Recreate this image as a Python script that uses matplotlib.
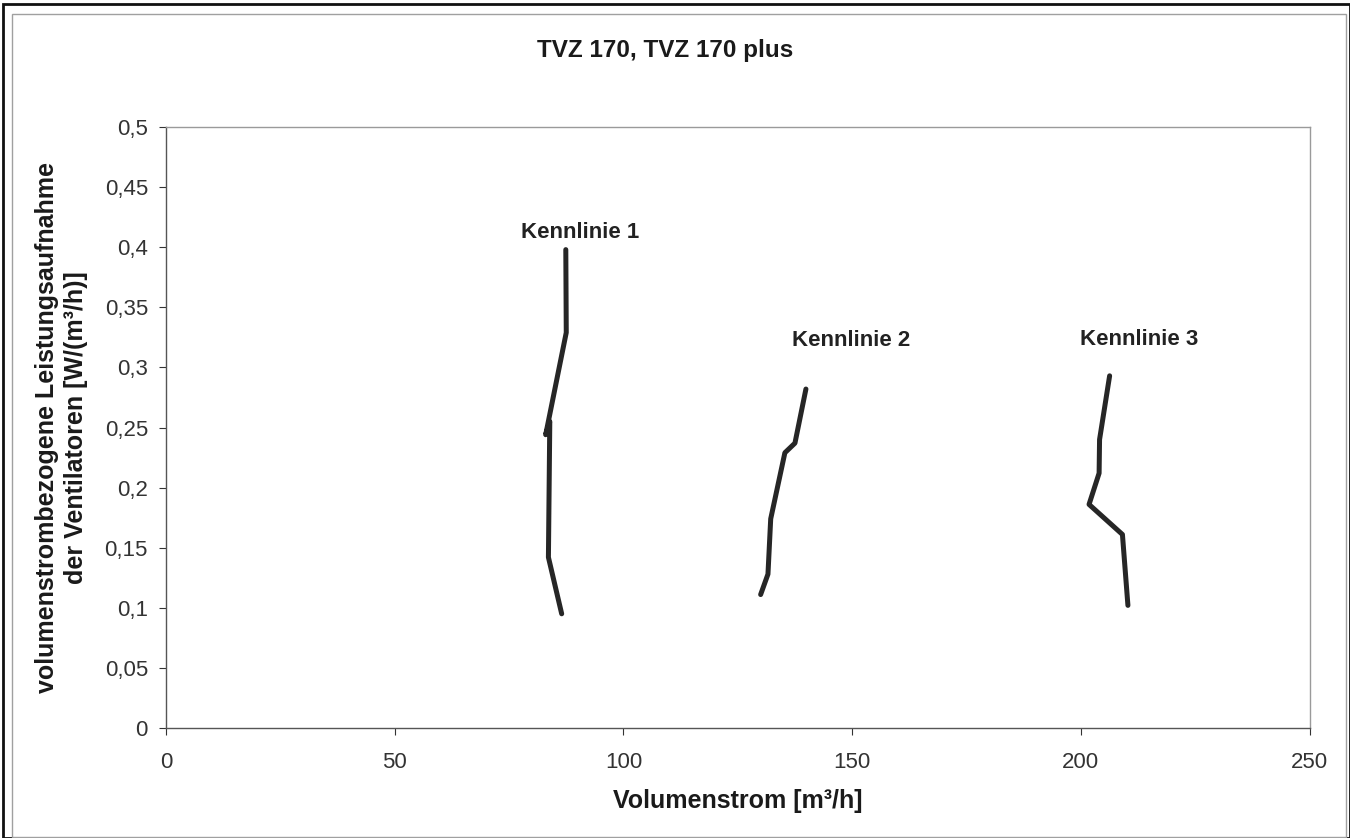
import numpy as np
import matplotlib.pyplot as plt
from matplotlib.patches import Rectangle

plt.rcParams['font.family'] = ['Liberation Sans', 'DejaVu Sans']

# ---------- data ----------
k1_x = [87.4, 87.5, 83.0, 83.9, 83.6, 86.5]
k1_y = [0.398, 0.329, 0.244, 0.255, 0.142, 0.095]

k2_x = [139.9, 137.5, 135.3, 132.2, 131.6, 130.0]
k2_y = [0.282, 0.237, 0.229, 0.174, 0.128, 0.111]

k3_x = [206.3, 204.1, 204.0, 201.8, 209.1, 210.3]
k3_y = [0.293, 0.240, 0.212, 0.186, 0.161, 0.102]

curve_labels = ["Kennlinie 1", "Kennlinie 2", "Kennlinie 3"]
label_pos = [(90.5, 0.412), (149.8, 0.322), (212.8, 0.323)]

x_ticks = [0, 50, 100, 150, 200, 250]
y_ticks = [0, 0.05, 0.1, 0.15, 0.2, 0.25, 0.3, 0.35, 0.4, 0.45, 0.5]
y_tick_labels = ["0", "0,05", "0,1", "0,15", "0,2", "0,25", "0,3", "0,35",
                 "0,4", "0,45", "0,5"]

# ---------- figure ----------
fig = plt.figure(figsize=(13.5, 8.38), dpi=100)
ax = fig.add_axes([0.123, 0.1313, 0.847, 0.7171])

line_col = "#262626"
for xs, ys in [(k1_x, k1_y), (k2_x, k2_y), (k3_x, k3_y)]:
    ax.plot(xs, ys, color=line_col, lw=3.6, solid_capstyle="round",
            solid_joinstyle="round")

for txt, (lx, ly) in zip(curve_labels, label_pos):
    ax.text(lx, ly, txt, ha="center", va="center", fontsize=16,
            fontweight="bold", color="#222222")

ax.set_xlim(0, 250)
ax.set_ylim(0, 0.5)
ax.set_xticks(x_ticks)
ax.set_xticklabels([str(v) for v in x_ticks])
ax.set_yticks(y_ticks)
ax.set_yticklabels(y_tick_labels)
ax.tick_params(axis="both", direction="out", length=5, width=0.8,
               labelsize=16, colors="#333333", pad=8)
ax.tick_params(axis="x", pad=12)

for side in ["top", "right"]:
    ax.spines[side].set_color("#9a9a9a")
    ax.spines[side].set_linewidth(1.0)
for side in ["left", "bottom"]:
    ax.spines[side].set_color("#555555")
    ax.spines[side].set_linewidth(1.0)

ax.set_xlabel("Volumenstrom [m³/h]", fontsize=18, fontweight="bold",
              color="#1a1a1a", labelpad=12)
ax.set_ylabel("volumenstrombezogene Leistungsaufnahme\nder Ventilatoren [W/(m³/h)]",
              fontsize=18, fontweight="bold", color="#1a1a1a", labelpad=12,
              linespacing=1.25)

fig.text(0.493, 0.940, "TVZ 170, TVZ 170 plus", ha="center", va="center",
         fontsize=17.5, fontweight="bold", color="#1a1a1a")

# outer frames
fig.patches.append(Rectangle((0.0025, 0.0), 0.9975, 0.995, transform=fig.transFigure,
                             fill=False, edgecolor="#111111", lw=2.0))
fig.patches.append(Rectangle((0.009, 0.001), 0.988, 0.982, transform=fig.transFigure,
                             fill=False, edgecolor="#a0a0a0", lw=1.0))

fig.savefig("out.png", dpi=100)
